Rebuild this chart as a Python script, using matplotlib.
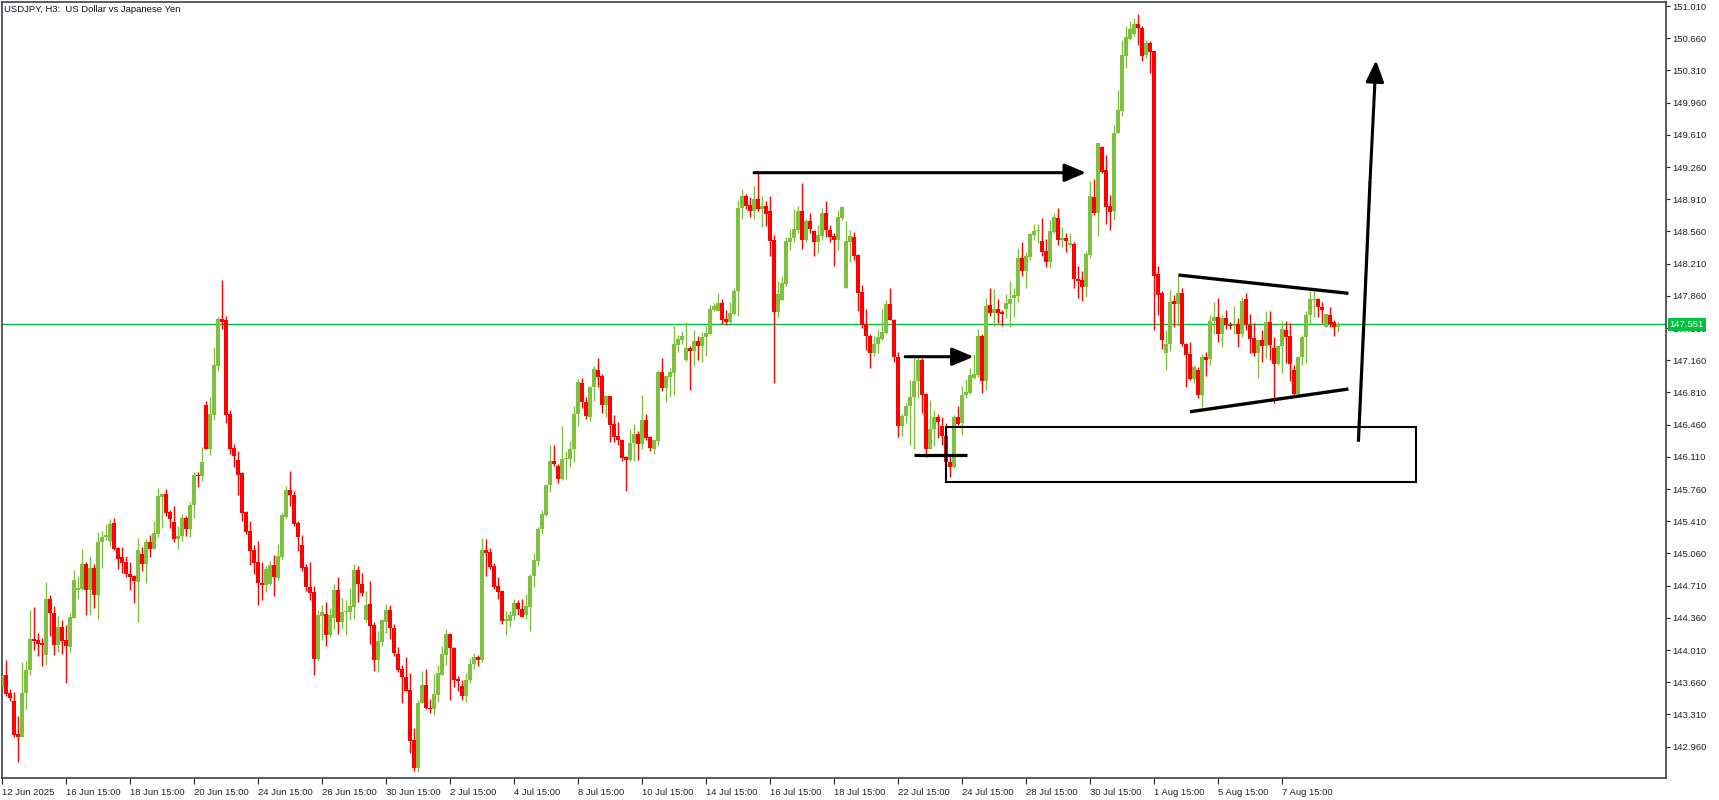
import numpy as np
import matplotlib.pyplot as plt
from matplotlib.patches import Rectangle
from matplotlib.transforms import blended_transform_factory

plt.rcParams['font.family'] = ['Liberation Sans', 'DejaVu Sans']

# USDJPY H3 candles, first bar 12 Jun 2025 15:00
opens = [
    143.61, 143.74, 143.54, 143.46, 143.10, 143.07, 143.54, 143.79, 144.13, 144.12,
    144.08, 143.96, 144.56, 144.41, 144.06, 144.26, 144.12, 144.04, 144.36, 144.66,
    144.67, 144.95, 144.66, 144.90, 144.61, 145.18, 145.24, 145.19, 145.39, 145.12,
    145.02, 144.97, 144.84, 144.81, 144.75, 145.05, 144.95, 145.18, 145.11, 145.27,
    145.67, 145.71, 145.51, 145.40, 145.22, 145.25, 145.45, 145.32, 145.59, 145.91,
    145.90, 146.67, 146.20, 146.56, 147.10, 147.61, 147.60, 146.57, 146.21, 146.08,
    145.93, 145.51, 145.30, 145.10, 144.97, 144.74, 144.72, 144.73, 144.93, 144.79,
    145.02, 145.46, 145.75, 145.70, 145.39, 145.15, 144.91, 144.69, 144.64, 143.91,
    144.38, 144.40, 144.17, 144.36, 144.66, 144.32, 144.42, 144.42, 144.48, 144.88,
    144.73, 144.34, 144.51, 144.28, 143.90, 144.10, 144.32, 144.44, 144.25, 143.97,
    143.80, 143.72, 143.58, 143.03, 142.73, 143.43, 143.63, 143.38, 143.37, 143.52,
    143.74, 143.96, 144.18, 144.03, 143.69, 143.62, 143.51, 143.68, 143.86, 143.93,
    143.90, 145.10, 145.08, 144.92, 144.71, 144.65, 144.33, 144.33, 144.38, 144.52,
    144.46, 144.39, 144.48, 144.81, 144.98, 145.33, 145.48, 145.80, 146.06, 146.01,
    145.87, 146.09, 146.09, 146.19, 146.58, 146.91, 146.71, 146.54, 146.87, 147.05,
    146.99, 146.67, 146.77, 146.47, 146.34, 146.29, 146.11, 146.08, 146.26, 146.36,
    146.25, 146.51, 146.33, 146.20, 146.28, 147.03, 146.86, 146.98, 147.02, 147.33,
    147.38, 147.16, 147.29, 147.26, 147.37, 147.31, 147.41, 147.45, 147.71, 147.70,
    147.78, 147.61, 147.57, 147.66, 147.91, 148.81, 148.95, 148.85, 148.78, 148.91,
    148.80, 148.84, 148.78, 148.47, 147.68, 147.81, 147.99, 148.45, 148.49, 148.58,
    148.78, 148.47, 148.67, 148.56, 148.44, 148.51, 148.76, 148.58, 148.51, 148.47,
    148.71, 147.95, 148.45, 148.50, 148.30, 147.90, 147.55, 147.42, 147.24, 147.34,
    147.39, 147.46, 147.77, 147.60, 147.19, 146.45, 146.55, 146.66, 146.76, 146.93,
    147.16, 146.79, 146.20, 146.41, 146.54, 146.44, 146.34, 146.05, 146.00, 146.54,
    146.48, 146.78, 146.80, 146.97, 147.00, 147.42, 146.93, 147.76, 147.67, 147.72,
    147.68, 147.72, 147.77, 147.84, 147.86, 148.27, 148.13, 148.28, 148.52, 148.56,
    148.46, 148.35, 148.23, 148.55, 148.71, 148.47, 148.49, 148.41, 148.42, 148.04,
    148.03, 147.96, 148.30, 148.93, 148.76, 149.48, 149.23, 148.84, 148.78, 149.63,
    149.87, 150.47, 150.65, 150.71, 150.81, 150.77, 150.48, 150.61, 150.52, 148.10,
    147.89, 147.24, 147.34, 147.80, 147.77, 147.89, 147.34, 147.23, 146.96, 147.05,
    146.78, 147.19, 147.17, 147.59, 147.63, 147.44, 147.62, 147.54, 147.53, 147.55,
    147.45, 147.82, 147.54, 147.40, 147.24, 147.38, 147.31, 147.57, 147.29, 147.12,
    147.31, 147.49, 147.42, 147.05, 146.79, 147.19, 147.41, 147.65, 147.81, 147.82,
    147.74, 147.52, 147.65, 147.57, 147.52,
]
highs = [
    143.76, 143.90, 143.59, 143.55, 143.29, 143.88, 143.89, 144.45, 144.48, 144.19,
    144.14, 144.75, 144.61, 144.49, 144.39, 144.34, 144.28, 144.41, 144.88, 144.82,
    145.11, 144.97, 145.03, 144.95, 145.29, 145.30, 145.38, 145.43, 145.45, 145.13,
    145.13, 145.03, 144.97, 144.83, 145.23, 145.13, 145.22, 145.26, 145.41, 145.77,
    145.72, 145.76, 145.53, 145.57, 145.36, 145.49, 145.47, 145.62, 145.95, 145.95,
    146.22, 146.72, 146.76, 147.30, 147.63, 148.03, 147.64, 146.62, 146.25, 146.17,
    145.94, 145.52, 145.41, 145.15, 145.20, 144.97, 144.92, 144.98, 145.04, 145.16,
    145.50, 145.79, 145.96, 145.74, 145.41, 145.26, 144.94, 144.97, 144.71, 144.44,
    144.50, 144.53, 144.47, 144.73, 144.80, 144.58, 144.55, 144.68, 144.94, 144.92,
    144.85, 144.65, 144.76, 144.32, 144.22, 144.35, 144.51, 144.50, 144.29, 144.04,
    143.85, 143.93, 143.76, 143.16, 143.47, 143.78, 143.80, 143.48, 143.75, 143.85,
    144.05, 144.24, 144.20, 144.04, 143.73, 143.68, 143.76, 143.92, 143.98, 143.96,
    145.23, 145.22, 145.12, 144.96, 144.80, 144.66, 144.43, 144.43, 144.57, 144.55,
    144.57, 144.62, 144.84, 145.07, 145.35, 145.53, 145.81, 146.24, 146.24, 146.03,
    146.44, 146.17, 146.28, 146.66, 146.96, 146.97, 146.76, 146.88, 147.10, 147.18,
    147.01, 146.78, 146.77, 146.56, 146.49, 146.30, 146.12, 146.41, 146.47, 146.39,
    146.78, 146.57, 146.34, 146.29, 147.05, 147.18, 147.00, 147.08, 147.53, 147.43,
    147.48, 147.57, 147.31, 147.49, 147.42, 147.47, 147.53, 147.76, 147.78, 147.89,
    147.82, 147.71, 147.79, 147.94, 148.90, 149.02, 148.97, 148.93, 149.05, 149.20,
    148.94, 148.89, 148.94, 148.52, 148.02, 148.07, 148.50, 148.59, 148.80, 148.84,
    149.09, 148.70, 148.76, 148.58, 148.63, 148.81, 148.89, 148.63, 148.54, 148.79,
    148.84, 148.67, 148.57, 148.55, 148.31, 147.98, 147.72, 147.44, 147.42, 147.50,
    147.72, 147.81, 147.94, 147.61, 147.25, 146.58, 146.70, 146.94, 147.18, 147.21,
    147.18, 146.80, 146.73, 146.62, 146.58, 146.54, 146.48, 146.13, 146.56, 146.66,
    146.88, 146.96, 147.07, 147.23, 147.50, 147.45, 147.84, 147.94, 147.93, 147.83,
    147.71, 147.88, 148.02, 147.94, 148.38, 148.45, 148.34, 148.54, 148.64, 148.64,
    148.71, 148.48, 148.68, 148.76, 148.81, 148.61, 148.54, 148.54, 148.45, 148.18,
    148.13, 148.35, 149.11, 149.13, 149.52, 149.49, 149.39, 148.96, 149.72, 150.10,
    150.64, 150.79, 150.85, 150.88, 150.92, 150.79, 150.64, 150.63, 150.52, 148.18,
    147.91, 147.49, 147.92, 147.87, 148.08, 147.94, 147.35, 147.36, 147.11, 147.09,
    147.23, 147.25, 147.65, 147.79, 147.84, 147.65, 147.71, 147.57, 147.75, 147.62,
    147.85, 147.89, 147.66, 147.56, 147.39, 147.49, 147.69, 147.69, 147.41, 147.31,
    147.59, 147.59, 147.56, 147.11, 147.21, 147.43, 147.70, 147.91, 147.91, 147.84,
    147.79, 147.66, 147.74, 147.60, 147.58,
]
lows = [
    143.58, 143.51, 143.46, 143.07, 142.79, 143.07, 143.37, 143.74, 144.01, 143.95,
    143.84, 143.85, 144.16, 143.96, 143.99, 143.97, 143.65, 143.99, 144.36, 144.56,
    144.66, 144.39, 144.39, 144.47, 144.35, 144.90, 145.21, 145.14, 145.10, 144.89,
    144.85, 144.80, 144.66, 144.52, 144.31, 144.87, 144.74, 145.02, 145.11, 145.24,
    145.34, 145.47, 145.34, 145.18, 145.11, 145.19, 145.25, 145.24, 145.44, 145.78,
    145.85, 146.20, 146.13, 146.51, 147.04, 147.50, 146.48, 146.14, 146.00, 145.69,
    145.41, 145.27, 144.93, 144.84, 144.50, 144.55, 144.64, 144.72, 144.60, 144.77,
    145.00, 145.45, 145.57, 145.36, 145.09, 144.87, 144.65, 144.55, 143.74, 143.89,
    144.12, 144.05, 144.15, 144.24, 144.18, 144.24, 144.17, 144.34, 144.35, 144.53,
    144.60, 144.31, 144.08, 143.78, 143.77, 144.05, 144.20, 144.13, 143.95, 143.77,
    143.43, 143.56, 142.89, 142.69, 142.68, 143.43, 143.37, 143.33, 143.30, 143.45,
    143.74, 143.85, 143.47, 143.61, 143.56, 143.47, 143.45, 143.65, 143.80, 143.84,
    143.88, 144.81, 144.89, 144.67, 144.57, 144.29, 144.17, 144.26, 144.34, 144.39,
    144.37, 144.35, 144.22, 144.70, 144.93, 145.27, 145.47, 145.73, 146.01, 145.83,
    145.86, 145.87, 146.00, 146.05, 146.45, 146.64, 146.52, 146.50, 146.72, 146.87,
    146.59, 146.54, 146.27, 146.27, 146.24, 146.06, 145.74, 146.06, 146.06, 146.08,
    146.20, 146.29, 146.17, 146.14, 146.24, 146.82, 146.71, 146.76, 146.78, 147.25,
    147.34, 147.15, 146.84, 147.10, 147.16, 147.14, 147.21, 147.43, 147.70, 147.69,
    147.55, 147.54, 147.56, 147.65, 147.64, 148.70, 148.80, 148.72, 148.70, 148.78,
    148.61, 148.62, 148.29, 146.91, 147.63, 147.81, 147.97, 148.36, 148.45, 148.54,
    148.37, 148.45, 148.54, 148.29, 148.33, 148.47, 148.50, 148.45, 148.18, 148.36,
    148.68, 147.94, 148.23, 148.25, 147.69, 147.51, 147.27, 147.08, 147.21, 147.24,
    147.38, 147.45, 147.60, 147.14, 146.32, 146.34, 146.48, 146.24, 146.19, 146.75,
    146.59, 146.11, 146.19, 146.23, 146.31, 146.24, 146.00, 145.89, 145.99, 146.46,
    146.35, 146.75, 146.79, 146.96, 146.98, 146.80, 146.84, 147.64, 147.53, 147.56,
    147.53, 147.62, 147.52, 147.63, 147.79, 148.07, 147.94, 148.25, 148.47, 148.43,
    148.29, 148.17, 148.16, 148.54, 148.41, 148.39, 148.34, 148.39, 147.94, 147.84,
    147.80, 147.85, 148.27, 148.74, 148.51, 149.20, 148.64, 148.58, 148.68, 149.63,
    149.81, 150.34, 150.64, 150.68, 150.59, 150.41, 150.45, 150.28, 147.49, 147.65,
    147.28, 147.05, 147.26, 147.52, 147.53, 147.31, 146.87, 146.95, 146.91, 146.75,
    146.65, 146.99, 147.11, 147.45, 147.36, 147.30, 147.50, 147.50, 147.45, 147.30,
    147.41, 147.49, 147.24, 147.21, 146.97, 147.14, 147.18, 147.16, 146.69, 147.11,
    147.02, 147.13, 146.93, 146.76, 146.77, 147.11, 147.13, 147.54, 147.63, 147.63,
    147.56, 147.52, 147.52, 147.42, 147.47,
]
closes = [
    143.74, 143.53, 143.49, 143.09, 143.07, 143.54, 143.79, 144.13, 144.11, 144.08,
    144.07, 144.56, 144.41, 144.06, 144.26, 144.11, 144.05, 144.37, 144.77, 144.68,
    144.95, 144.66, 144.90, 144.61, 145.18, 145.24, 145.26, 145.38, 145.11, 145.00,
    144.96, 144.84, 144.80, 144.76, 145.10, 144.95, 145.18, 145.11, 145.28, 145.68,
    145.71, 145.50, 145.43, 145.22, 145.25, 145.45, 145.32, 145.59, 145.91, 145.90,
    146.05, 146.20, 146.57, 147.11, 147.61, 147.58, 146.56, 146.20, 146.12, 145.91,
    145.50, 145.29, 145.09, 144.96, 144.74, 144.72, 144.89, 144.93, 144.80, 145.03,
    145.48, 145.75, 145.69, 145.38, 145.24, 144.90, 144.69, 144.63, 143.91, 144.39,
    144.42, 144.17, 144.39, 144.66, 144.32, 144.42, 144.42, 144.49, 144.88, 144.73,
    144.63, 144.50, 144.27, 143.90, 144.11, 144.34, 144.44, 144.25, 143.98, 143.79,
    143.72, 143.57, 143.02, 142.73, 143.43, 143.63, 143.38, 143.37, 143.53, 143.76,
    143.97, 144.18, 144.03, 143.68, 143.67, 143.51, 143.68, 143.86, 143.93, 143.90,
    145.10, 145.07, 144.91, 144.69, 144.64, 144.33, 144.34, 144.39, 144.52, 144.46,
    144.37, 144.49, 144.81, 144.99, 145.33, 145.49, 145.80, 146.06, 146.03, 145.87,
    146.09, 146.10, 146.19, 146.58, 146.92, 146.71, 146.55, 146.87, 147.06, 146.98,
    146.67, 146.77, 146.46, 146.33, 146.29, 146.10, 146.08, 146.26, 146.36, 146.25,
    146.51, 146.31, 146.21, 146.29, 147.03, 146.86, 146.99, 147.03, 147.34, 147.39,
    147.42, 147.29, 147.26, 147.37, 147.31, 147.41, 147.46, 147.72, 147.75, 147.78,
    147.60, 147.57, 147.67, 147.91, 148.81, 148.95, 148.84, 148.78, 148.91, 148.80,
    148.84, 148.75, 148.46, 147.68, 147.88, 148.00, 148.46, 148.49, 148.59, 148.78,
    148.47, 148.67, 148.59, 148.44, 148.52, 148.76, 148.58, 148.50, 148.47, 148.72,
    148.82, 148.46, 148.51, 148.29, 147.89, 147.54, 147.42, 147.24, 147.34, 147.41,
    147.47, 147.77, 147.60, 147.19, 146.45, 146.55, 146.66, 146.76, 146.93, 147.16,
    146.78, 146.20, 146.41, 146.54, 146.49, 146.34, 146.05, 146.00, 146.54, 146.47,
    146.78, 146.81, 147.00, 147.01, 147.42, 146.93, 147.75, 147.67, 147.72, 147.67,
    147.66, 147.78, 147.83, 147.87, 148.27, 148.13, 148.29, 148.53, 148.56, 148.58,
    148.34, 148.23, 148.56, 148.72, 148.47, 148.49, 148.46, 148.43, 148.04, 148.02,
    147.96, 148.31, 148.94, 148.76, 149.52, 149.21, 148.83, 148.77, 149.63, 149.88,
    150.48, 150.67, 150.76, 150.81, 150.77, 150.47, 150.61, 150.51, 148.08, 147.87,
    147.38, 147.34, 147.79, 147.77, 147.89, 147.34, 147.22, 146.96, 147.09, 146.78,
    147.19, 147.16, 147.59, 147.63, 147.44, 147.62, 147.54, 147.53, 147.54, 147.45,
    147.80, 147.54, 147.39, 147.24, 147.38, 147.31, 147.57, 147.33, 147.12, 147.31,
    147.50, 147.41, 147.12, 146.79, 147.19, 147.41, 147.65, 147.82, 147.82, 147.74,
    147.71, 147.66, 147.55, 147.52, 147.55,
]

date_labels = ['12 Jun 2025', '16 Jun 15:00', '18 Jun 15:00', '20 Jun 15:00', '24 Jun 15:00',
               '26 Jun 15:00', '30 Jun 15:00', '2 Jul 15:00', '4 Jul 15:00', '8 Jul 15:00',
               '10 Jul 15:00', '14 Jul 15:00', '16 Jul 15:00', '18 Jul 15:00', '22 Jul 15:00',
               '24 Jul 15:00', '28 Jul 15:00', '30 Jul 15:00', '1 Aug 15:00', '5 Aug 15:00',
               '7 Aug 15:00']
label_bars = list(range(0, 321, 16))
price_levels = [151.010 - 0.35 * k for k in range(24)]
last_price = 147.551

# hand drawn analysis objects (bar index, price)
arrow_top = [(188, 271), 149.198]
arrow_mid = [(225.8, 242.9), 147.198]
support_tick = [(227.9, 241.2), 146.126]
zone = [(236, 353.4), (145.839, 146.437)]
tri_upper = [(294.1, 336.6), (148.086, 147.887)]
tri_lower = [(297.0, 336.6), (146.60, 146.847)]
big_arrow_x = [339.1, 340.6, 342.0, 343.5]
big_arrow_y = [146.274, 147.70, 149.10, 150.42]

o = np.array(opens)
h = np.array(highs)
l = np.array(lows)
c = np.array(closes)
idx = np.arange(len(c))

bull = '#80c041'
bear = '#ff0000'
cols = np.where(c >= o, bull, bear)

fig = plt.figure(figsize=(17.19, 8.0), dpi=100)
ax = fig.add_axes([2 / 1719, 22 / 800, 1664 / 1719, 776 / 800])

ax.axhline(last_price, color='#00c040', lw=1.0, zorder=1)

ax.vlines(idx, l, h, colors=cols, lw=1.0, zorder=2)
ax.bar(idx, np.maximum(np.abs(c - o), 0.012), bottom=np.minimum(o, c), width=0.8,
       color=cols, lw=0, zorder=3)

# drawings
k = dict(color='black', solid_capstyle='butt', zorder=5)
ap = dict(arrowstyle='-|>,head_length=1.3,head_width=0.55', color='black', lw=2.2,
          shrinkA=0, shrinkB=0, mutation_scale=10)
ax.annotate('', xy=(arrow_top[0][1], arrow_top[1]), xytext=(arrow_top[0][0], arrow_top[1]),
            arrowprops=ap, zorder=5)
ax.annotate('', xy=(arrow_mid[0][1], arrow_mid[1]), xytext=(arrow_mid[0][0], arrow_mid[1]),
            arrowprops=ap, zorder=5)
ax.plot(support_tick[0], [support_tick[1]] * 2, lw=2.3, **k)
ax.add_patch(Rectangle((zone[0][0], zone[1][0]), zone[0][1] - zone[0][0],
                       zone[1][1] - zone[1][0], fill=False, ec='black', lw=1.5, zorder=5))
ax.plot(tri_upper[0], tri_upper[1], lw=2.4, **k)
ax.plot(tri_lower[0], tri_lower[1], lw=2.4, **k)
ax.plot(big_arrow_x[:-1], big_arrow_y[:-1], lw=2.3, **k)
ax.annotate('', xy=(big_arrow_x[-1], big_arrow_y[-1]), xytext=(big_arrow_x[-2], big_arrow_y[-2]),
            arrowprops=ap, zorder=5)

ax.set_xlim(0, 416)
ax.set_ylim(142.619, 151.0535)

for s in ax.spines.values():
    s.set_color('#3a424b')
    s.set_linewidth(1.2)

ax.yaxis.tick_right()
ax.set_yticks(price_levels)
ax.set_yticklabels(['%.3f' % v for v in price_levels])
ax.tick_params(axis='y', length=3, width=0.8, pad=1.5, labelsize=6.8, colors='#222222')

ax.set_xticks(label_bars)
ax.set_xticklabels(date_labels, ha='left')
ax.tick_params(axis='x', length=4, width=0.8, pad=3, labelsize=6.8, colors='#222222')

tr = blended_transform_factory(ax.transAxes, ax.transData)
ax.text(1.0022, last_price, '%.3f' % last_price, transform=tr, color='white', fontsize=6.8,
        va='center', ha='left', zorder=10, clip_on=False,
        bbox=dict(boxstyle='square,pad=0.22', fc='#00c040', ec='none'))

fig.text(4 / 1719, 1 - 10 / 800, 'USDJPY, H3:  US Dollar vs Japanese Yen', fontsize=6.8,
         va='center', ha='left', color='#111111')

fig.savefig('out.png', dpi=100)
